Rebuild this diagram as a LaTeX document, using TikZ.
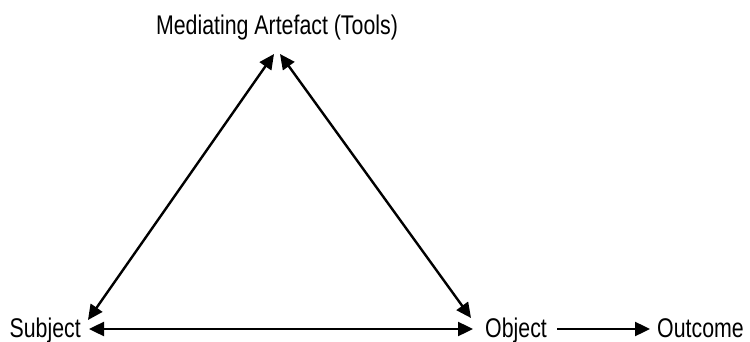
\documentclass[tikz,border=0pt]{standalone}
\usepackage{fontspec}
\setmainfont[FakeStretch=0.79]{Liberation Sans}
\usetikzlibrary{arrows.meta}

\begin{document}
\begin{tikzpicture}[x=1pt,y=-1pt]
        % Styles for labels and arrows
        \tikzset{label text/.style={inner sep=0pt,font=\fontsize{27}{32}\selectfont,text height=20pt,text depth=4pt},
                 link/.style={line width=2.4pt,{Triangle[length=15pt,width=14pt]}-{Triangle[length=15pt,width=14pt]}},
                 flow/.style={line width=2.4pt,-{Triangle[length=15pt,width=14pt]}}}
        \useasboundingbox (0,0) rectangle (750,342);

        % Corner labels
        \node[label text,anchor=base] (tools) at (277,35) {Mediating Artefact (Tools)};
        \node[label text,anchor=base east] (subject) at (81,337) {Subject};
        \node[label text,anchor=base west] (object) at (485,337) {Object};
        \node[label text,anchor=base west] (outcome) at (657,337) {Outcome};

        % Ends of the triangle sides
        \coordinate (apexL) at (274,54);
        \coordinate (apexR) at (280,54);
        \coordinate (subjTop) at (88,320);
        \coordinate (subjSide) at (89,329);
        \coordinate (objTop) at (471,318);
        \coordinate (objSide) at (473,329);

        % Triangle
        \draw[link] (apexL) -- (subjTop);
        \draw[link] (apexR) -- (objTop);
        \draw[link] (subjSide) -- (objSide);

        % Object to outcome
        \draw[flow,shorten <=10pt,shorten >=7pt] (object.east) -- (outcome.west);
    \end{tikzpicture}
\end{document}
